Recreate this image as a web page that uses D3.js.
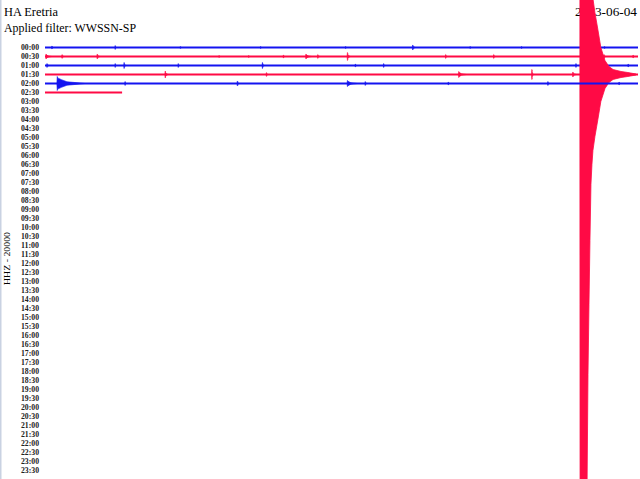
<!DOCTYPE html>
<html><head><meta charset="utf-8">
<script src="https://cdn.jsdelivr.net/npm/d3@7"></script>
<style>html,body{margin:0;padding:0;background:#fff;}svg{display:block;}</style>
</head><body>
<script>
// ---- data ----
const station = "HA Eretria";
const filterText = "Applied filter: WWSSN-SP";
const dateText = "2023-06-04";
const channelText = "HHZ - 20000";
const rowLabels = ["00:00","00:30","01:00","01:30","02:00","02:30","03:00","03:30","04:00","04:30",
  "05:00","05:30","06:00","06:30","07:00","07:30","08:00","08:30","09:00","09:30",
  "10:00","10:30","11:00","11:30","12:00","12:30","13:00","13:30","14:00","14:30",
  "15:00","15:30","16:00","16:30","17:00","17:30","18:00","18:30","19:00","19:30",
  "20:00","20:30","21:00","21:30","22:00","22:30","23:00","23:30"];
// minutes of data recorded in each drawn row
const traceEndMinutes = [30, 30, 30, 30, 30, 3.9];
// spikes: [row, minute, peak counts, duration in minutes]
const spikes = [
  [0,0.35,3300,0.08],[0,3.55,4400,0.08],[0,6.84,2200,0.06],[0,10.9,2200,0.06],[0,15.2,2200,0.06],
  [0,18.6,5600,0.15],[0,21.5,2200,0.06],[0,24.1,2200,0.06],[0,28.3,2200,0.06],
  [1,0.05,5600,0.3],[1,0.86,4400,0.12],[1,2.64,5600,0.15],[1,8.8,2200,0.06],[1,10.3,2200,0.06],
  [1,12.06,3300,0.08],[1,13.2,5600,0.3],[1,13.8,4400,0.12],[1,15.3,8900,0.15],[1,20.27,4400,0.1],
  [1,22.7,4400,0.1],[1,28.28,4400,0.1],[1,29.75,3300,0.08],
  [2,0.1,4400,0.12],[2,3.55,4400,0.08],[2,4.0,6700,0.1],[2,6.74,4400,0.08],[2,11.0,6700,0.1],
  [2,15.7,3300,0.08],[2,17.13,4400,0.08],[2,26.86,4400,0.08],[2,29.5,3300,0.08],
  [3,6.08,7800,0.15],[3,11.2,4400,0.1],[3,20.93,6700,0.4],[3,24.63,11100,0.1],[3,26.7,5600,0.2],
  [4,0.62,15600,1.4],[4,4.05,4400,0.08],[4,9.73,5600,0.1],[4,15.3,6700,0.5],[4,16.2,4400,0.1],
  [4,20.4,3300,0.08],[4,25.44,4400,0.1],[4,29.04,3300,0.08]
];
// main earthquake in row 01:30 (envelope)
const quakeRow = 3;
const quakeMinute = [27.06,27.07,27.42,27.47,27.52,27.57,27.62,27.67,27.72,27.82,27.97,28.12,28.33,28.53,28.74,29.14,29.49,29.9];
const quakeCounts = [0,1100000,933000,667000,511000,369000,244000,200000,169000,138000,100000,60000,31000,17800,11000,6700,4400,1100];

// ---- drawing ----
const W = 640, H = 479;
const blue = "#1414f0", red = "#ff0a45";
const svg = d3.select("body").append("svg").attr("width", W).attr("height", H);
svg.append("rect").attr("width", W).attr("height", H).attr("fill", "#fff");
svg.append("rect").attr("x", 0).attr("y", 0).attr("width", 1.5).attr("height", H).attr("fill", "#c9d2e2");

const x = d3.scaleLinear().domain([0, 30]).range([45, 638]);
const yRow = d3.scaleLinear().domain([0, rowLabels.length - 1]).range([47.5, 470.5]);
const amp = d3.scaleLinear().domain([0, 20000]).range([0, 9]);

const font = "'Liberation Serif', 'Times New Roman', serif";
svg.append("text").attr("x", 4).attr("y", 16).attr("font-family", font).attr("font-size", 11.5).attr("fill", "#000")
  .attr("textLength", 54).attr("lengthAdjust", "spacingAndGlyphs").text(station);
svg.append("text").attr("x", 4).attr("y", 32).attr("font-family", font).attr("font-size", 11.5).attr("fill", "#000")
  .attr("textLength", 132).attr("lengthAdjust", "spacingAndGlyphs").text(filterText);
svg.append("text").attr("x", 575).attr("y", 16).attr("font-family", font).attr("font-size", 11.5).attr("fill", "#000")
  .attr("textLength", 62).attr("lengthAdjust", "spacingAndGlyphs").text(dateText);
svg.append("text").attr("transform", "translate(10,258.5) rotate(-90)").attr("text-anchor", "middle")
  .attr("font-family", font).attr("font-size", 8).attr("fill", "#000")
  .attr("textLength", 53).attr("lengthAdjust", "spacingAndGlyphs").text(channelText);

svg.append("g").selectAll("text").data(rowLabels).join("text")
  .attr("x", 39).attr("y", (d, i) => yRow(i) + 2.8).attr("text-anchor", "end")
  .attr("font-family", font).attr("font-size", 8).attr("font-weight", "bold").attr("fill", "#222")
  .attr("textLength", 18).attr("lengthAdjust", "spacingAndGlyphs").text(d => d);

const area = d3.area().x(d => x(d[0])).y0(d => d[2] - amp(d[1])).y1(d => d[2] + amp(d[1]));

traceEndMinutes.forEach((end, r) => {
  const col = r % 2 ? red : blue;
  const y0 = yRow(r);
  const g = svg.append("g");
  g.append("line").attr("x1", x(0)).attr("x2", x(end)).attr("y1", y0).attr("y2", y0)
    .attr("stroke", col).attr("stroke-width", 2);
  spikes.filter(s => s[0] === r).forEach(s => {
    const [, m, c, dur] = s;
    const pts = [[m - 0.02, 0, y0], [m, c, y0], [m + 0.02, c * 0.8, y0], [m + dur * 0.15, c * 0.55, y0],
                 [m + dur * 0.35, c * 0.25, y0], [m + dur, 0, y0]];
    g.append("path").attr("d", area(pts)).attr("fill", col).attr("stroke", col).attr("stroke-width", 0.6);
  });
  if (r === quakeRow) {
    const pts = quakeMinute.map((m, i) => [m, quakeCounts[i], y0]);
    g.append("path").attr("d", area(pts)).attr("fill", col).attr("stroke", col).attr("stroke-width", 0.8);
  }
});
</script>
</body></html>
